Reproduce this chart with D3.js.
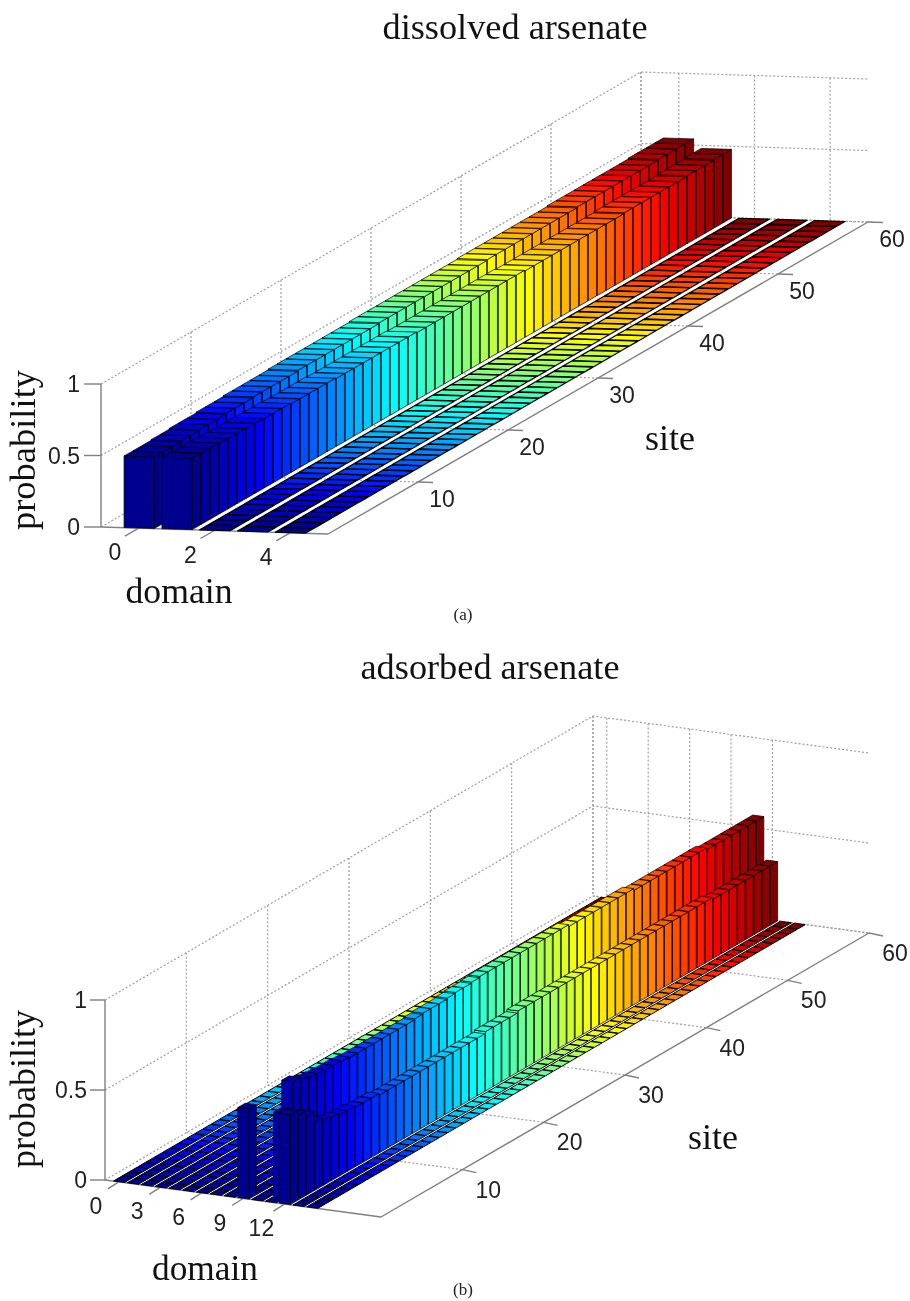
<!DOCTYPE html>
<html>
<head>
<meta charset="utf-8">
<script src="https://cdn.jsdelivr.net/npm/d3@7"></script>
<style>
  html, body { margin: 0; padding: 0; background: #fff; }
  svg { display: block; filter: blur(0.7px); }
  .tick-label { font-family: "Liberation Sans", sans-serif; font-size: 23px; fill: #222; }
  .title { font-family: "Liberation Serif", serif; font-size: 36px; fill: #111; }
  .caption { font-family: "Liberation Serif", serif; font-size: 17px; fill: #222; }
</style>
</head>
<body>
<svg id="chart" width="910" height="1301"></svg>
<script>
const sites = [1,2,3,4,5,6,7,8,9,10,11,12,13,14,15,16,17,18,19,20,21,22,23,24,25,26,27,28,29,30,
  31,32,33,34,35,36,37,38,39,40,41,42,43,44,45,46,47,48,49,50,51,52,53,54,55,56,57,58,59,60]

const flatRow = [0,0,0,0,0,0,0,0,0,0,0,0,0,0,0,0,0,0,0,0,0,0,0,0,0,0,0,0,0,0,
  0,0,0,0,0,0,0,0,0,0,0,0,0,0,0,0,0,0,0,0,0,0,0,0,0,0,0,0,0,0]

// panel (a)
const dissolvedD0 = [.50,.50,.50,.505,.505,.51,.51,.51,.515,.515,.515,.52,.52,.52,.52,.52,.525,.525,.525,.525,
  .525,.525,.525,.525,.525,.53,.53,.53,.53,.53,.53,.53,.53,.53,.53,.53,.53,.535,.535,.535,
  .535,.535,.535,.535,.535,.535,.535,.54,.54,.54,.54,.54,.54,.54,.54,.54,.545,.545,.545,.545]
const dissolvedD1 = [.50,.50,.50,.495,.495,.49,.49,.49,.485,.485,.485,.48,.48,.48,.48,.48,.475,.475,.475,.475,
  .475,.475,.475,.475,.475,.47,.47,.47,.47,.47,.47,.47,.47,.47,.47,.47,.47,.465,.465,.465,
  .465,.465,.465,.465,.465,.465,.465,.465,.47,.47,.47,.47,.47,.47,.47,.475,.475,.475,.48,.48]
const dissolvedRows = [dissolvedD0, dissolvedD1, flatRow, flatRow, flatRow]

// panel (b)
const adsorbedD9 = [.50,0,0,0,0,0,0,0,0,0,0,0,0,0,0,0,0,0,0,0,0,0,0,0,0,0,0,0,0,0,
  0,0,0,0,0,0,0,0,0,0,0,0,0,0,0,0,0,0,0,0,0,0,0,0,0,0,0,0,0,0]
const adsorbedD11 = [0,.47,.62,.60,.59,.585,.58,.58,.575,.57,.57,.57,.57,.57,.57,.57,.57,.575,.58,.58,
  .58,.585,.59,.59,.595,.60,.60,.60,.60,.60,.60,.60,.60,.60,.60,.60,.59,.59,.59,.59,
  .59,.59,.59,.59,.58,.58,.58,.58,.58,.58,.58,.58,.58,.57,.57,.57,.57,.57,.57,.57]
const adsorbedD12 = [.50,.47,.44,.38,.36,.35,.34,.34,.33,.33,.33,.32,.32,.32,.32,.32,.32,.32,.32,.32,
  .32,.32,.32,.32,.33,.33,.33,.33,.34,.34,.34,.34,.34,.34,.34,.34,.34,.34,.34,.34,
  .34,.34,.34,.34,.34,.34,.34,.34,.34,.34,.34,.34,.33,.33,.33,.33,.33,.33,.33,.33]
const adsorbedRows = [flatRow, flatRow, flatRow, flatRow, flatRow, flatRow, flatRow, flatRow, flatRow,
  adsorbedD9, flatRow, adsorbedD11, adsorbedD12, flatRow, flatRow]

const dissolvedDomainTicks = [0, 2, 4]
const adsorbedDomainTicks = [0, 3, 6, 9, 12]
const siteTicks = [10, 20, 30, 40, 50, 60]
const probTicks = [0, 0.5, 1]

const jet = d3.scaleLinear()
  .domain([0, 0.125, 0.375, 0.625, 0.875, 1])
  .range(['#00008f', '#0000ff', '#00ffff', '#ffff00', '#ff0000', '#800000'])

const svg = d3.select('#chart')
const line = d3.line()
const polyLine = pts => line(pts)
const polygon = pts => line(pts) + 'Z'

function drawPanel (cfg) {
  const g = svg.append('g')

  // oblique axes: each data axis gets a screen vector, x and y kept apart
  const dx = d3.scaleLinear().domain(cfg.domainExtent).range([0, cfg.domainVec[0]])
  const dy = d3.scaleLinear().domain(cfg.domainExtent).range([0, cfg.domainVec[1]])
  const sx = d3.scaleLinear().domain([0, 60]).range([0, cfg.siteVec[0]])
  const sy = d3.scaleLinear().domain([0, 60]).range([0, cfg.siteVec[1]])
  const zy = d3.scaleLinear().domain([0, 1]).range([0, -cfg.zLen])
  const P = (d, s, z) => [cfg.origin[0] + dx(d) + sx(s), cfg.origin[1] + dy(d) + sy(s) + zy(z)]

  const [d0, d1] = cfg.domainExtent

  const gridLines = []
  probTicks.forEach(z => {
    gridLines.push([P(d0, 0, z), P(d0, 60, z), P(d1, 60, z)])
  })
  siteTicks.forEach(s => {
    gridLines.push([P(d0, s, 1), P(d0, s, 0), P(d1, s, 0)])
  })
  cfg.domainTicks.forEach(d => {
    gridLines.push([P(d, 60, 1), P(d, 60, 0), P(d, 0, 0)])
  })
  gridLines.push([P(d0, 60, 1), P(d0, 60, 0)])

  g.selectAll('.grid').data(gridLines).join('path')
    .attr('class', 'grid')
    .attr('d', polyLine)
    .attr('fill', 'none')
    .attr('stroke', '#a0a0a0')
    .attr('stroke-width', 1.2)
    .attr('stroke-dasharray', '2,2')

  const axisLines = [
    [P(d0, 0, 1), P(d0, 0, 0)],
    [P(d0, 0, 0), P(d1, 0, 0)],
    [P(d1, 0, 0), P(d1, 60, 0)]
  ]
  probTicks.forEach(z => axisLines.push([P(d0, 0, z), [P(d0, 0, z)[0] - cfg.zTick, P(d0, 0, z)[1]]]))
  cfg.domainTicks.forEach(d => {
    const p = P(d, 0, 0)
    axisLines.push([p, [p[0] - cfg.dTick[0], p[1] + cfg.dTick[1]]])
  })
  siteTicks.forEach(s => {
    const p = P(d1, s, 0)
    axisLines.push([p, [p[0] + cfg.sTick[0], p[1] + cfg.sTick[1]]])
  })
  g.selectAll('.axis').data(axisLines).join('path')
    .attr('class', 'axis')
    .attr('d', polyLine)
    .attr('fill', 'none')
    .attr('stroke', '#808080')
    .attr('stroke-width', 1.4)

  // painter's order: far rows first, back sites first
  const bars = []
  cfg.rows.forEach((row, d) => {
    for (let i = sites.length - 1; i >= 0; i--) {
      bars.push({ d, s: sites[i] - 0.5, z: row[i], site: sites[i] })
    }
  })

  const hd = 0.4
  const hs = 0.46
  const barG = g.selectAll('.bar').data(bars).join('g').attr('class', 'bar')
    .attr('fill', d => jet((d.site - 1) / (sites.length - 1)))
    .attr('stroke', '#000')
    .attr('stroke-width', b => b.z > 0 ? cfg.edgeWidth : cfg.flatEdge)
    .attr('stroke-linejoin', 'round')

  barG.filter(b => b.z > 0).append('path')
    .attr('d', b => polygon([P(b.d + hd, b.s - hs, 0), P(b.d + hd, b.s + hs, 0), P(b.d + hd, b.s + hs, b.z), P(b.d + hd, b.s - hs, b.z)]))
  barG.filter(b => b.z > 0).append('path')
    .attr('d', b => polygon([P(b.d - hd, b.s - hs, 0), P(b.d + hd, b.s - hs, 0), P(b.d + hd, b.s - hs, b.z), P(b.d - hd, b.s - hs, b.z)]))
  barG.append('path')
    .attr('d', b => polygon([P(b.d - hd, b.s - hs, b.z), P(b.d + hd, b.s - hs, b.z), P(b.d + hd, b.s + hs, b.z), P(b.d - hd, b.s + hs, b.z)]))

  // tick labels
  g.selectAll('.zlab').data(probTicks).join('text')
    .attr('class', 'tick-label zlab')
    .attr('text-anchor', 'end')
    .attr('x', d => P(d0, 0, d)[0] - cfg.zLabelGap)
    .attr('y', d => P(d0, 0, d)[1] + 8)
    .text(d => d)
  g.selectAll('.dlab').data(cfg.domainTicks).join('text')
    .attr('class', 'tick-label dlab')
    .attr('text-anchor', 'middle')
    .attr('x', d => P(d, 0, 0)[0] + cfg.dLabel[0])
    .attr('y', d => P(d, 0, 0)[1] + cfg.dLabel[1] + 8)
    .text(d => d)
  g.selectAll('.slab').data(siteTicks).join('text')
    .attr('class', 'tick-label slab')
    .attr('text-anchor', 'middle')
    .attr('x', d => P(d1, d, 0)[0] + cfg.sLabel[0])
    .attr('y', d => P(d1, d, 0)[1] + cfg.sLabel[1] + 8)
    .text(d => d)

  // titles
  const t = (cls, x, y, str, len, rot) => {
    const el = g.append('text').attr('class', cls).attr('text-anchor', 'middle')
      .attr('transform', `translate(${x},${y})` + (rot ? ` rotate(${rot})` : ''))
      .text(str)
    if (len) el.attr('textLength', len).attr('lengthAdjust', 'spacingAndGlyphs')
  }
  t('title', cfg.title[0], cfg.title[1], cfg.titleText, cfg.title[2])
  t('title', cfg.zLabel[0], cfg.zLabel[1], 'probability', cfg.zLabel[2], -90)
  t('title', cfg.xLabel[0], cfg.xLabel[1], 'domain', cfg.xLabel[2])
  t('title', cfg.yLabel[0], cfg.yLabel[1], 'site', cfg.yLabel[2])
  t('caption', cfg.caption[0], cfg.caption[1], cfg.captionText)
}

drawPanel({
  rows: dissolvedRows,
  domainTicks: dissolvedDomainTicks,
  domainExtent: [-1, 5],
  origin: [101, 527],
  domainVec: [227, 7],
  siteVec: [540, -312],
  zLen: 143,
  zTick: 17,
  dTick: [14, 8],
  sTick: [15, 0.5],
  zLabelGap: 21,
  dLabel: [-24, 24],
  sLabel: [24, 17],
  edgeWidth: 0.7,
  flatEdge: 1.2,
  titleText: 'dissolved arsenate',
  title: [515, 39, 265],
  zLabel: [35, 450, 160],
  xLabel: [179, 603, 107],
  yLabel: [670, 450, 50],
  caption: [463, 620],
  captionText: '(a)'
})

drawPanel({
  rows: adsorbedRows,
  domainTicks: adsorbedDomainTicks,
  domainExtent: [-1, 19],
  origin: [105, 1180],
  domainVec: [276, 37],
  siteVec: [488, -284],
  zLen: 180,
  zTick: 15,
  dTick: [11, 7],
  sTick: [14, 3],
  zLabelGap: 18,
  dLabel: [-23, 24],
  sLabel: [26, 20],
  edgeWidth: 0.7,
  flatEdge: 1,
  titleText: 'adsorbed arsenate',
  title: [490, 679, 259],
  zLabel: [35, 1089, 158],
  xLabel: [205, 1280, 106],
  yLabel: [713, 1149, 50],
  caption: [463, 1295],
  captionText: '(b)'
})
</script>
</body>
</html>
